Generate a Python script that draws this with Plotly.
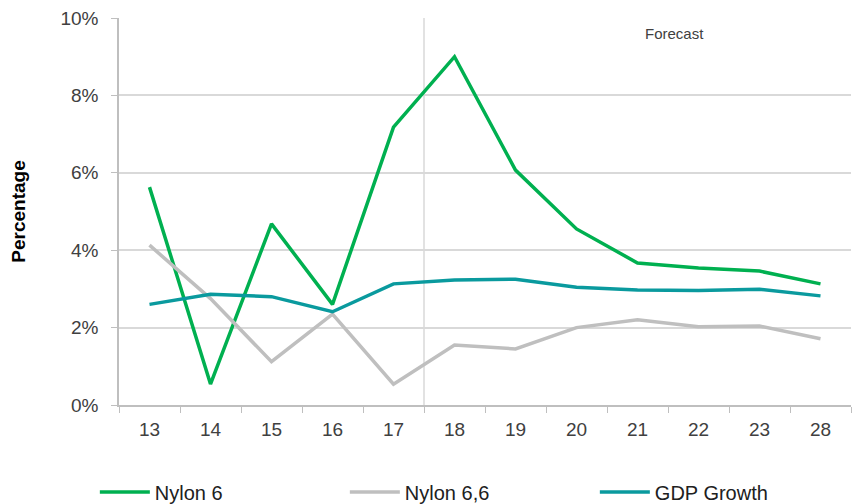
import plotly.graph_objects as go

years = ["13", "14", "15", "16", "17", "18", "19", "20", "21", "22", "23", "28"]
nylon6 = [5.63, 0.54, 4.68, 2.6, 7.18, 9.0, 6.07, 4.55, 3.67, 3.54, 3.46, 3.13]
nylon66 = [4.13, 2.75, 1.12, 2.35, 0.54, 1.55, 1.45, 2.0, 2.2, 2.02, 2.04, 1.71]
gdp = [2.6, 2.86, 2.8, 2.41, 3.13, 3.23, 3.25, 3.04, 2.97, 2.96, 2.99, 2.82]

font_family = "Liberation Sans, Arial, sans-serif"

fig = go.Figure()
for name, vals, color in [
    ("Nylon 6", nylon6, "#00B050"),
    ("Nylon 6,6", nylon66, "#BFBFBF"),
    ("GDP Growth", gdp, "#0A9A9E"),
]:
    fig.add_trace(go.Scatter(
        x=years, y=vals, name=name, mode="lines",
        line=dict(color=color, width=3.5),
    ))

# boundary between actuals and forecast
fig.add_shape(type="line", xref="x", yref="y", x0=4.5, x1=4.5, y0=0, y1=10,
              line=dict(color="#D9D9D9", width=1.5), layer="below")

fig.add_annotation(text="Forecast", x=8.6, y=9.61, xref="x", yref="y",
                   showarrow=False, font=dict(size=15, color="#404040", family=font_family))

fig.update_layout(
    width=853, height=504,
    margin=dict(l=119, r=2, t=18, b=99, autoexpand=False),
    paper_bgcolor="white", plot_bgcolor="white",
    font=dict(family=font_family, color="#404040"),
    showlegend=True,
    legend=dict(orientation="h", x=-0.033, y=-0.2248, xanchor="left", yanchor="middle",
                entrywidth=185, entrywidthmode="pixels", itemwidth=50,
                font=dict(size=20, color="#202020"), traceorder="normal"),
    xaxis=dict(type="category", range=[-0.5, 11.5], tickson="boundaries",
               ticks="outside", ticklen=6, tickcolor="#BFBFBF",
               showline=True, linecolor="#BFBFBF", linewidth=1.5,
               showgrid=False, ticklabelstandoff=6,
               tickfont=dict(size=19, color="#404040")),
    yaxis=dict(range=[0, 10], dtick=2, ticksuffix="%",
               ticks="outside", ticklen=6, tickcolor="#BFBFBF",
               showline=True, linecolor="#BFBFBF", linewidth=1.5,
               showgrid=True, gridcolor="#D9D9D9", gridwidth=1.5,
               zeroline=False, ticklabelstandoff=9,
               tickfont=dict(size=19, color="#404040"),
               title=dict(text="<b>Percentage</b>", font=dict(size=19, color="#000000"),
                          standoff=30)),
)

fig.write_html("out.html")
